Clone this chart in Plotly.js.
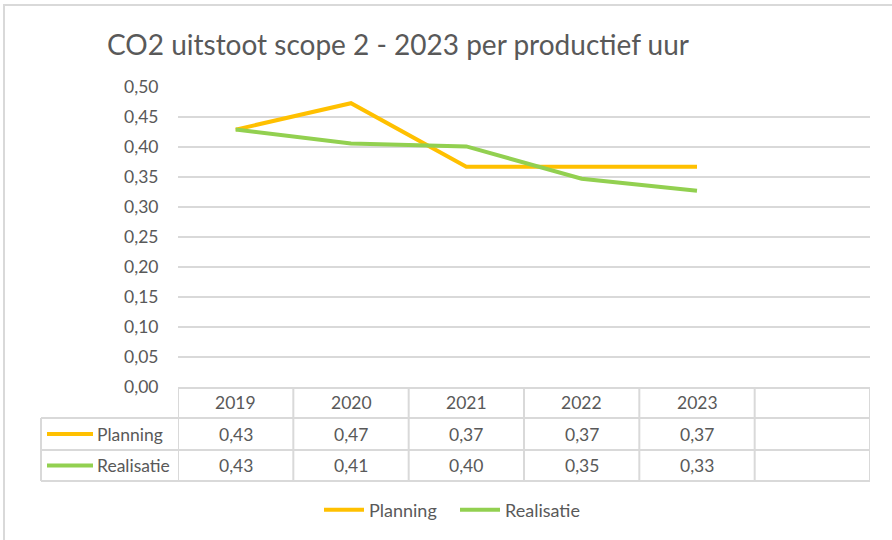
<!DOCTYPE html>
<html>
<head>
<meta charset="utf-8">
<script src="https://cdn.plot.ly/plotly-3.0.1.min.js"></script>
<style>
  html, body { margin: 0; padding: 0; background: #fff; overflow: hidden; }
  #frame { position: absolute; left: 3px; top: 4px; width: 1000px; height: 1000px; border: 2px solid #d9d9d9; box-sizing: border-box; pointer-events: none; z-index: 2; }
  #chart { position: absolute; left: 0; top: 0; width: 892px; height: 540px; }
</style>
</head>
<body>
<div id="chart"></div>
<div id="frame"></div>
<script>
// ---- data ----
const years = ['2019', '2020', '2021', '2022', '2023'];
const planning = [0.429, 0.473, 0.367, 0.367, 0.367];
const realisatie = [0.429, 0.406, 0.401, 0.347, 0.327];
const seriesNames = ['Planning', 'Realisatie'];
const yTicks = [0, 0.05, 0.10, 0.15, 0.20, 0.25, 0.30, 0.35, 0.40, 0.45, 0.50];

// ---- styling ----
const FONT = 'Lato, "Open Sans", sans-serif';
const TXT = '#595959';
const GRID = '#d9d9d9';
const COLORS = ['#FFC000', '#92D050'];
const W = 892, H = 540;
const plotL = 178, plotR = 870, plotT = 87, plotB = 387;
const plotW = plotR - plotL, plotH = plotB - plotT;
const nSlots = 6;

function px2paperX(px) { return (px - plotL) / plotW; }
function px2paperY(py) { return (plotB - py) / plotH; }
function fmt(v) { return v.toFixed(2).replace('.', ','); }

const seriesValues = [planning, realisatie];

const traces = seriesValues.map((vals, i) => ({
  type: 'scatter',
  mode: 'lines',
  name: seriesNames[i],
  x: years,
  y: vals,
  line: { color: COLORS[i], width: 4 },
  hoverinfo: 'skip'
}));

// table geometry (pixel positions converted to paper)
const rowLines = [418, 450, 481].map(px2paperY);
const tableBottom = rowLines[2];
const tableLeft = px2paperX(41);
const headerY = px2paperY(403);
const rowY = [px2paperY(434), px2paperY(465.5)];

const shapes = [];
rowLines.forEach(y => {
  shapes.push({ type: 'line', xref: 'paper', yref: 'paper', x0: tableLeft, x1: 1, y0: y, y1: y,
    line: { color: GRID, width: 2 }, layer: 'below' });
});
for (let i = 0; i <= nSlots; i++) {
  shapes.push({ type: 'line', xref: 'x', yref: 'paper', x0: i - 0.5, x1: i - 0.5, y0: 0, y1: tableBottom,
    line: { color: GRID, width: 2 }, layer: 'below' });
}
shapes.push({ type: 'line', xref: 'paper', yref: 'paper', x0: tableLeft, x1: tableLeft, y0: rowLines[0], y1: tableBottom,
  line: { color: GRID, width: 2 }, layer: 'below' });
rowY.forEach((y, i) => {
  shapes.push({ type: 'line', xref: 'paper', yref: 'paper', x0: px2paperX(47), x1: px2paperX(93), y0: y, y1: y,
    line: { color: COLORS[i], width: 4 } });
});

const annotations = [];
const cellFont = { family: FONT, size: 17.5, color: TXT };
years.forEach((yr, j) => {
  annotations.push({ xref: 'x', yref: 'paper', x: j, y: headerY, text: yr, showarrow: false,
    xanchor: 'center', yanchor: 'middle', font: cellFont });
  seriesValues.forEach((vals, i) => {
    annotations.push({ xref: 'x', yref: 'paper', x: j, y: rowY[i], text: fmt(vals[j]), showarrow: false,
      xanchor: 'center', yanchor: 'middle', font: cellFont });
  });
});
seriesNames.forEach((nm, i) => {
  annotations.push({ xref: 'paper', yref: 'paper', x: px2paperX(95), y: rowY[i], text: nm, showarrow: false,
    xanchor: 'left', yanchor: 'middle', font: cellFont });
});

const layout = {
  width: W, height: H,
  margin: { l: plotL, r: W - plotR, t: plotT, b: H - plotB, pad: 0 },
  paper_bgcolor: '#fff', plot_bgcolor: '#fff',
  separators: ',.',
  font: { family: FONT, color: TXT, size: 17.5 },
  title: {
    text: 'CO2 uitstoot scope 2 - 2023 per productief uur',
    font: { family: FONT, size: 28, color: TXT },
    xref: 'container', yref: 'container',
    x: 107 / W, xanchor: 'left',
    y: 1 - 45 / H, yanchor: 'middle'
  },
  xaxis: {
    type: 'category',
    categoryarray: years,
    range: [-0.5, nSlots - 0.5],
    showticklabels: false,
    showgrid: false,
    zeroline: false,
    showline: true, linecolor: GRID, linewidth: 2,
    fixedrange: true
  },
  yaxis: {
    range: [0, 0.5],
    tickvals: yTicks,
    tickformat: '.2f',
    showgrid: true, gridcolor: GRID, gridwidth: 1.5,
    zeroline: false, showline: false,
    ticks: 'outside', ticklen: 15, tickcolor: 'rgba(0,0,0,0)',
    tickfont: { family: FONT, size: 17.5, color: TXT },
    fixedrange: true
  },
  showlegend: true,
  legend: {
    orientation: 'h',
    xref: 'container', yref: 'container',
    x: 455 / W, xanchor: 'center',
    y: 1 - 510 / H, yanchor: 'middle',
    font: { family: FONT, size: 18, color: TXT },
    itemwidth: 40,
    entrywidth: 81,
    bgcolor: 'rgba(0,0,0,0)'
  },
  shapes: shapes,
  annotations: annotations
};

Plotly.newPlot('chart', traces, layout, { displayModeBar: false, staticPlot: true });
</script>
</body>
</html>
